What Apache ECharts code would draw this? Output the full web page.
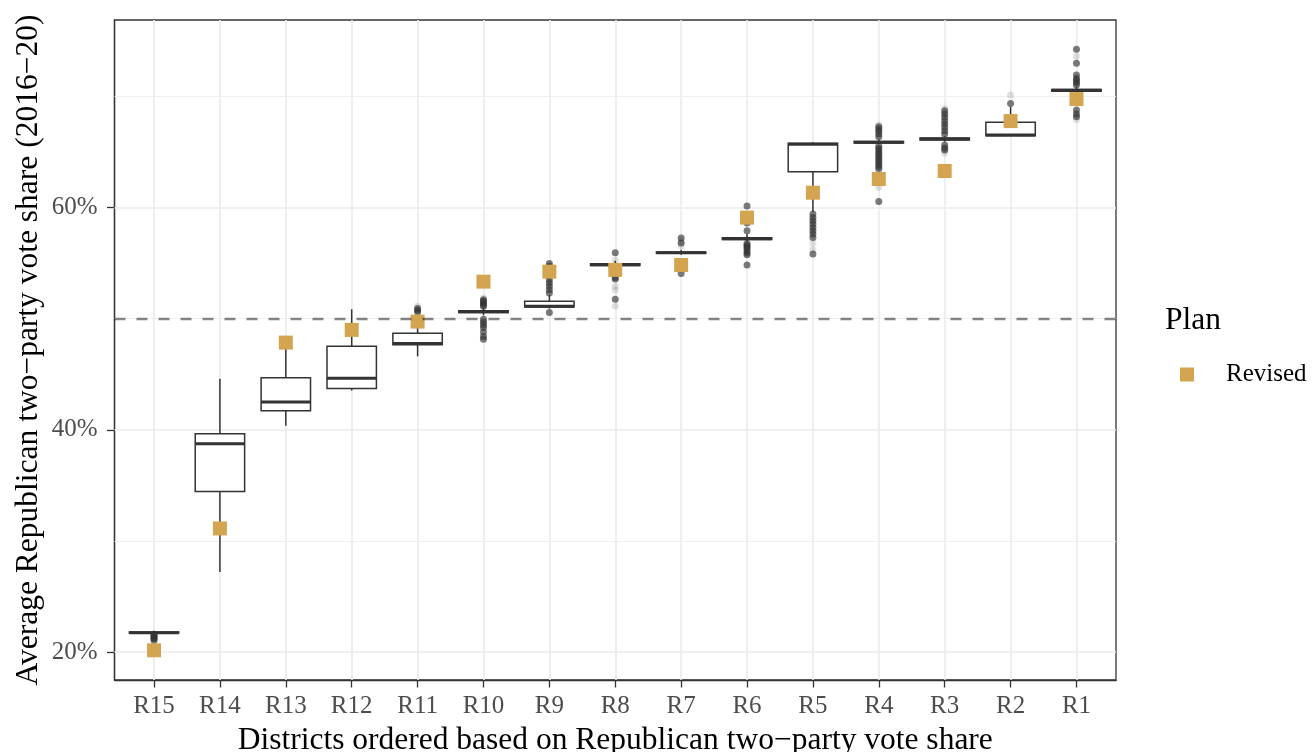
<!DOCTYPE html>
<html>
<head>
<meta charset="utf-8">
<script src="https://cdn.jsdelivr.net/npm/echarts@6/dist/echarts.min.js"></script>
<style>
html,body{margin:0;padding:0;background:#fff;}
#chart{width:1313px;height:752px;}
</style>
</head>
<body>
<div id="chart"></div>
<script>
// ---------- data ----------
const districts = ['R15','R14','R13','R12','R11','R10','R9','R8','R7','R6','R5','R4','R3','R2','R1'];
const whiskerLow  = [21.62, 27.21, 40.36, 43.53, 46.60, 50.30, 50.90, 54.60, 55.75, 56.90, 59.60, 65.70, 65.90, 66.45, 70.20];
const quartile1   = [21.72, 34.46, 41.71, 43.71, 47.65, 50.55, 51.05, 54.78, 55.88, 57.12, 63.21, 65.80, 66.05, 66.45, 70.45];
const medianVal   = [21.76, 38.74, 42.49, 44.64, 47.75, 50.62, 51.12, 54.85, 55.93, 57.19, 65.67, 65.86, 66.16, 66.50, 70.53];
const quartile3   = [21.82, 39.64, 44.67, 47.52, 48.69, 50.70, 51.56, 54.92, 55.98, 57.26, 65.76, 65.92, 66.25, 67.65, 70.60];
const whiskerHigh = [21.92, 44.60, 47.30, 50.84, 50.30, 50.95, 52.10, 55.20, 56.20, 57.60, 65.85, 66.10, 66.40, 69.05, 70.85];
const revised     = [20.17, 31.13, 47.84, 48.98, 49.73, 53.32, 54.22, 54.38, 54.82, 59.08, 61.32, 62.55, 63.27, 67.76, 69.74];
const outliers = [
  [21.05, 21.2, 21.3, 21.4, 21.5, 21.6],
  [],
  [],
  [],
  [50.6, 50.75, 50.9],
  [51.7, 51.55, 51.4, 51.25, 51.1, 49.95, 49.7, 49.45, 49.2, 48.8, 48.4, 48.15],
  [52.3, 52.6, 52.9, 53.2, 53.5, 53.8, 54.1, 54.4, 54.7, 54.95, 50.55],
  [55.93, 53.7, 53.55, 51.74],
  [57.25, 56.8, 54.05],
  [60.13, 59.1, 58.6, 57.9, 56.75, 56.6, 56.45, 56.3, 56.1, 55.9, 55.75, 54.82],
  [59.4, 59.1, 58.8, 58.5, 58.2, 57.9, 57.6, 57.3, 55.8],
  [67.25, 67.05, 66.85, 66.6, 66.35, 65.5, 65.3, 65.1, 64.9, 64.7, 64.5, 64.3, 64.1, 63.9, 63.7, 63.5, 60.52],
  [68.7, 68.4, 68.1, 67.8, 67.5, 67.2, 66.9, 66.6, 65.6, 65.35, 65.15],
  [69.35],
  [74.23, 72.97, 71.9, 71.6, 71.4, 71.2, 71.0, 68.75, 68.4, 68.15]
];
const faintOutliers = [
  [], [], [], [], [51.1], [51.85], [], [55.27, 52.9, 52.58, 51.14], [56.55, 57.0], [],
  [56.8, 56.2], [61.8, 67.4, 63.3], [68.9, 64.9], [70.1], [73.6, 67.9]
];
const yMajorTicks = [20, 40, 60];
const yMinorTicks = [30, 50, 70];
const referenceLine = 50;
const yRange = [17.5, 76.85];
const xRange = [-0.6, 14.6];

// ---------- build ----------
const FONT = 'Liberation Serif';
const idx = districts.map((d, i) => i);
const boxData = districts.map((d, i) => [i, whiskerLow[i], quartile1[i], medianVal[i], quartile3[i], whiskerHigh[i]]);
const outlierData = [];
outliers.forEach((arr, i) => arr.forEach(v => outlierData.push([i, v])));
const faintData = [];
faintOutliers.forEach((arr, i) => arr.forEach(v => faintData.push([i, v])));
const revisedData = revised.map((v, i) => [i, v]);

const gridMajor = { color: '#EBEBEB', width: 1.6, type: 'solid' };
const gridMinor = { color: '#EDEDED', width: 0.9, type: 'solid' };
const gridLines = []
  .concat(idx.map(i => ({ xAxis: i, lineStyle: gridMajor })))
  .concat(yMajorTicks.map(v => ({ yAxis: v, lineStyle: gridMajor })))
  .concat(yMinorTicks.map(v => ({ yAxis: v, lineStyle: gridMinor })));

const chart = echarts.init(document.getElementById('chart'), null, { renderer: 'canvas' });
chart.setOption({
  animation: false,
  backgroundColor: '#fff',
  textStyle: { fontFamily: FONT },
  title: {
    text: 'Plan', left: 1165, top: 305, padding: 0,
    textStyle: { fontFamily: FONT, fontSize: 31.5, fontWeight: 'normal', color: '#000' }
  },
  legend: {
    data: ['Revised'], left: 1180, top: 362, orient: 'vertical', padding: 0,
    icon: 'rect', itemWidth: 14, itemHeight: 14,
    textStyle: { fontFamily: FONT, fontSize: 25, color: '#000', padding: [0, 0, 0, 27] }
  },
  grid: {
    left: 114.5, right: 197, top: 20, bottom: 72,
    outerBoundsMode: 'none', containLabel: false,
    show: true, borderColor: '#333', borderWidth: 1.3, backgroundColor: '#fff'
  },
  xAxis: {
    type: 'value', min: xRange[0], max: xRange[1],
    name: 'Districts ordered based on Republican two\u2212party vote share',
    nameLocation: 'middle', nameGap: 45, nameMoveOverlap: false,
    nameTextStyle: { fontFamily: FONT, fontSize: 31.5, color: '#000' },
    axisLine: { show: true, onZero: false, lineStyle: { color: '#333', width: 1.3 } },
    axisTick: { show: true, customValues: idx, length: 7.5, lineStyle: { color: '#333', width: 1.3 } },
    axisLabel: { customValues: idx, formatter: v => districts[Math.round(v)], fontFamily: FONT, fontSize: 25, color: '#4D4D4D', margin: 14 },
    splitLine: { show: false }
  },
  yAxis: {
    type: 'value', min: yRange[0], max: yRange[1],
    name: 'Average Republican two\u2212party vote share (2016\u221220)',
    nameLocation: 'middle', nameGap: 70, nameMoveOverlap: false,
    nameTextStyle: { fontFamily: FONT, fontSize: 31.5, color: '#000' },
    axisLine: { show: true, onZero: false, lineStyle: { color: '#333', width: 1.3 } },
    axisTick: { show: true, customValues: yMajorTicks, length: 7.5, lineStyle: { color: '#333', width: 1.3 } },
    axisLabel: { customValues: yMajorTicks, formatter: v => v + '%', fontFamily: FONT, fontSize: 25, color: '#4D4D4D', margin: 17 },
    splitLine: { show: false }
  },
  series: [
    {
      name: 'grid', type: 'scatter', data: [], z: 1, silent: true,
      markLine: {
        z: 1, silent: true, symbol: ['none', 'none'], label: { show: false },
        emphasis: { disabled: true }, animation: false,
        data: gridLines
      }
    },
    {
      name: 'box', type: 'custom', z: 2, silent: true,
      data: boxData,
      encode: { x: 0, y: [1, 2, 3, 4, 5] },
      renderItem: function (params, api) {
        const x = api.value(0);
        const lo = api.coord([x, api.value(1)]);
        const p1 = api.coord([x, api.value(2)]);
        const pm = api.coord([x, api.value(3)]);
        const p3 = api.coord([x, api.value(4)]);
        const hi = api.coord([x, api.value(5)]);
        const hw = api.size([0.75, 0])[0] / 2;
        const st = { stroke: '#333', lineWidth: 1.5, fill: null };
        return {
          type: 'group',
          children: [
            { type: 'line', shape: { x1: lo[0], y1: lo[1], x2: p1[0], y2: p1[1] }, style: st },
            { type: 'line', shape: { x1: p3[0], y1: p3[1], x2: hi[0], y2: hi[1] }, style: st },
            { type: 'rect', shape: { x: p1[0] - hw, y: p3[1], width: 2 * hw, height: p1[1] - p3[1] },
              style: { fill: '#fff', stroke: '#333', lineWidth: 1.5 } },
            { type: 'line', shape: { x1: pm[0] - hw, y1: pm[1], x2: pm[0] + hw, y2: pm[1] },
              style: { stroke: '#333', lineWidth: 3, fill: null } }
          ]
        };
      }
    },
    {
      name: 'faint', type: 'scatter', z: 3, silent: true, data: faintData,
      symbol: 'circle', symbolSize: 7,
      itemStyle: { color: '#333', opacity: 0.15 }
    },
    {
      name: 'outliers', type: 'scatter', z: 3, silent: true, data: outlierData,
      symbol: 'circle', symbolSize: 7,
      itemStyle: { color: '#333', opacity: 0.65 }
    },
    {
      name: 'Revised', type: 'scatter', z: 4, silent: true, data: revisedData,
      symbol: 'rect', symbolSize: 14,
      itemStyle: { color: '#D4A550', opacity: 1 }
    },
    {
      name: 'ref', type: 'scatter', data: [], z: 5, silent: true,
      markLine: {
        z: 5, silent: true, symbol: ['none', 'none'], label: { show: false },
        emphasis: { disabled: true }, animation: false,
        lineStyle: { color: 'rgba(0,0,0,0.47)', width: 2.3, type: [11, 11] },
        data: [{ yAxis: referenceLine }]
      }
    }
  ]
});
</script>
</body>
</html>
